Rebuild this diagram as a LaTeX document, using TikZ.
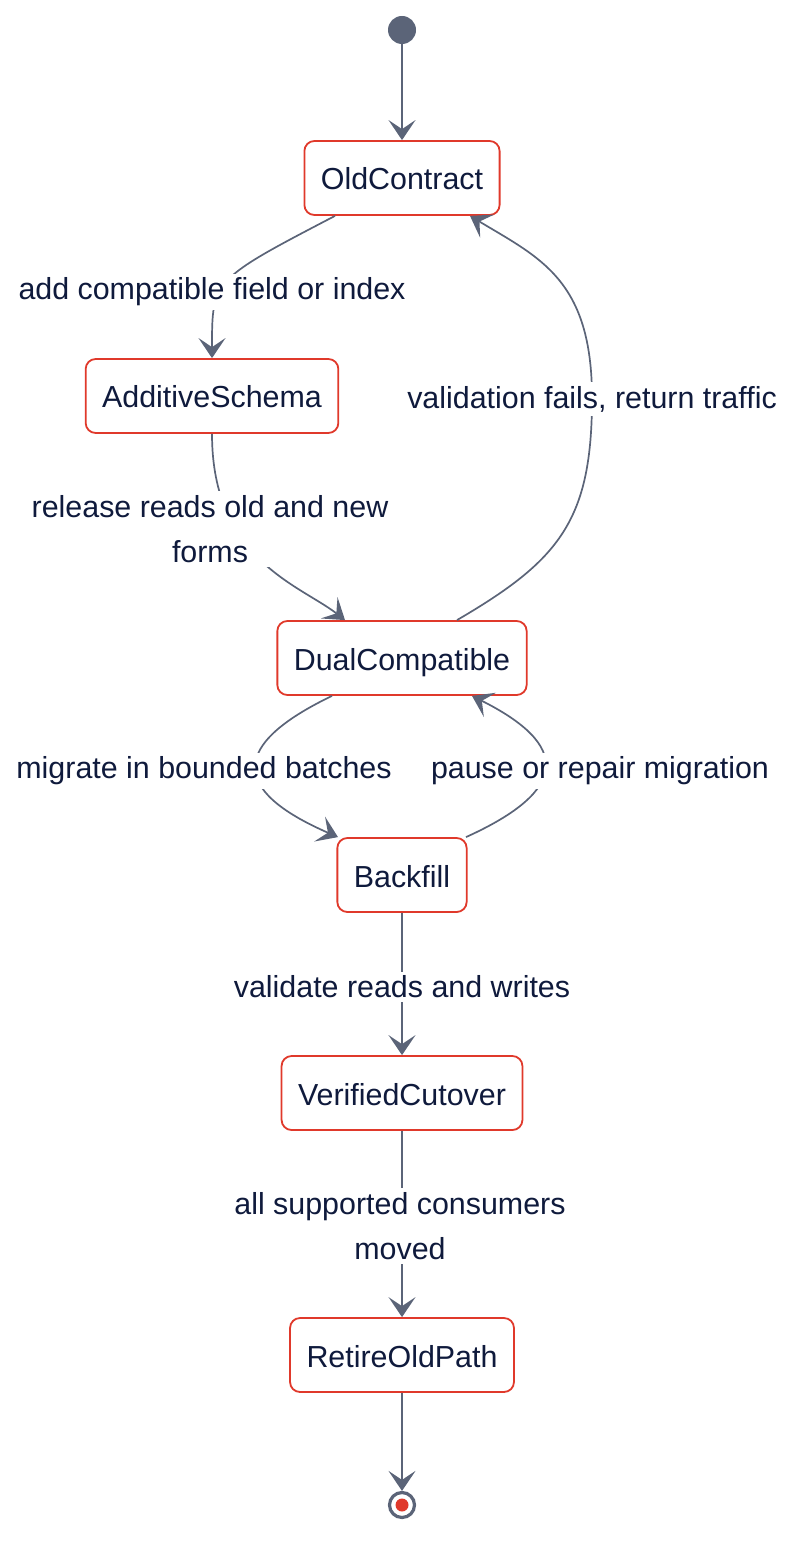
\documentclass[tikz,border=0pt]{standalone}
\usepackage{fontspec}
\setmainfont{Liberation Sans}
\usetikzlibrary{arrows.meta,calc}
\definecolor{linegray}{HTML}{5B6478}
\definecolor{statered}{HTML}{E0392B}
\definecolor{textnavy}{HTML}{0F1A3C}
\begin{document}
\begin{tikzpicture}[x=0.5pt, y=-0.5pt,
    every node/.style={text=textnavy, font=\fontsize{15.2}{22.5}\selectfont},
    state/.style={draw=statered, line width=0.9pt, rounded corners=5pt, fill=white,
        minimum height=37pt, inner xsep=8.25pt, text height=12pt, text depth=0pt},
    edgelabel/.style={fill=white, align=center, inner sep=2pt},
    edge/.style={draw=linegray, line width=0.85pt,
        -{Stealth[length=10pt, width=13.5pt, inset=4.5pt]}}]
    \useasboundingbox (0,0) rectangle (812,1566);

    % start and end
    \node[circle, fill=linegray, minimum size=14pt, inner sep=0pt] (start) at (402,30) {};
    \node[circle, draw=linegray, line width=1.6pt, fill=white, minimum size=12.5pt, inner sep=0pt] (end) at (402,1505) {};
    \node[circle, fill=statered, minimum size=6.5pt, inner sep=0pt] (endDot) at (end.center) {};

    % states
    \node[state] (old) at (402,178) {OldContract};
    \node[state] (add) at (212,396) {AdditiveSchema};
    \node[state] (dual) at (402,658) {DualCompatible};
    \node[state] (back) at (402,875) {Backfill};
    \node[state] (ver) at (402,1093) {VerifiedCutover};
    \node[state] (ret) at (402,1355) {RetireOldPath};

    % transitions
    \draw[edge] (start) -- (old);
    \draw[edge] ($(old.south)+(-67,0)$) .. controls (212,280) .. (add.north);
    \draw[edge] (add.south) .. controls (212,560) and (300,585) .. ($(dual.north)+(-57,0)$);
    \draw[edge] ($(dual.north)+(55,0)$) .. controls (560,560) and (592,520) .. (592,398)
        .. controls (592,280) and (540,258) .. ($(old.south)+(68,0)$);
    \draw[edge] ($(dual.south)+(-70,0)$) .. controls (230,745) and (230,790) .. ($(back.north)+(-64,0)$);
    \draw[edge] ($(back.north)+(64,0)$) .. controls (570,790) and (570,745) .. ($(dual.south)+(70,0)$);
    \draw[edge] (back) -- (ver);
    \draw[edge] (ver) -- (ret);
    \draw[edge] (ret) -- (end);

    % labels
    \node[edgelabel] (lAdd) at (212,292) {add compatible field or index};
    \node[edgelabel] (lRelease) at (210,529) {release reads old and new\\forms};
    \node[edgelabel] (lFail) at (592,399) {validation fails, return traffic};
    \node[edgelabel] (lMigrate) at (204,771) {migrate in bounded batches};
    \node[edgelabel] (lPause) at (600,771) {pause or repair migration};
    \node[edgelabel] (lValidate) at (402,987) {validate reads and writes};
    \node[edgelabel] (lMoved) at (400,1226) {all supported consumers\\moved};
\end{tikzpicture}
\end{document}
